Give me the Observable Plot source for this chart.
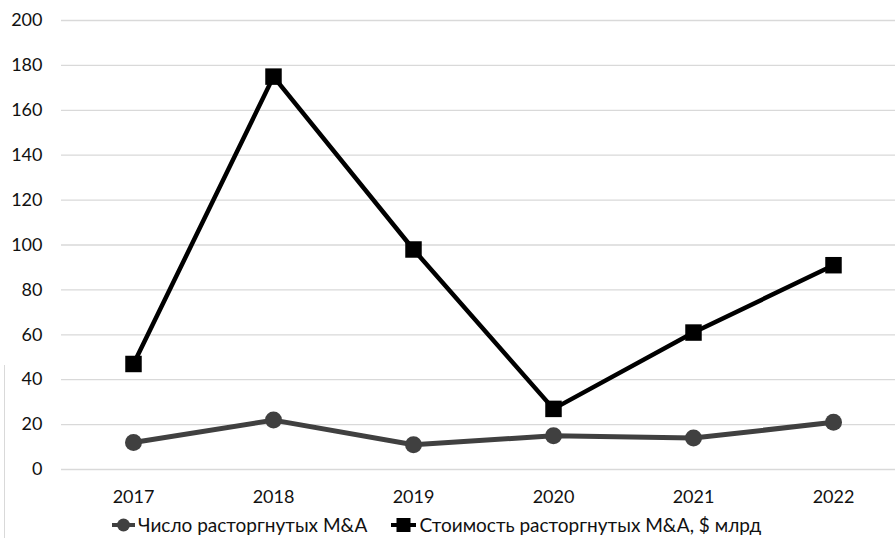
<!DOCTYPE html>
<html>
<head>
<meta charset="utf-8">
<script src="https://cdn.jsdelivr.net/npm/d3@7"></script>
<script src="https://cdn.jsdelivr.net/npm/@observablehq/plot@0.6"></script>
<style>
  body { margin: 0; background: #fff; font-family: Lato, "Open Sans", sans-serif; }
  #wrap { position: relative; width: 895px; height: 538px; overflow: hidden; }
  #edge { position: absolute; left: 4px; top: 365px; width: 0; height: 173px; border-left: 1px solid #d9d9d9; }
  #legend { position: absolute; left: 112px; top: 513px; display: flex; align-items: center; font-size: 19px; color: #111; white-space: nowrap; }
  #legend .item { display: flex; align-items: center; gap: 3px; }
  #legend .item + .item { margin-left: 24px; }
</style>
</head>
<body>
<div id="wrap">
  <div id="chart"></div>
  <div id="edge"></div>
  <div id="legend"></div>
</div>
<script>
const years = ["2017", "2018", "2019", "2020", "2021", "2022"];
const countDeals = [12, 22, 11, 15, 14, 21];
const valueDeals = [47, 175, 98, 27, 61, 91];
const yTicks = [0, 20, 40, 60, 80, 100, 120, 140, 160, 180, 200];
const seriesNames = ["Число расторгнутых M&A", "Стоимость расторгнутых M&A, $ млрд"];

const countData = years.map((y, i) => ({year: y, v: countDeals[i]}));
const valueData = years.map((y, i) => ({year: y, v: valueDeals[i]}));

const chart = Plot.plot({
  width: 895,
  height: 510,
  marginLeft: 61,
  marginRight: 0,
  marginTop: 20,
  marginBottom: 41,
  style: {fontFamily: "Lato, 'Open Sans', sans-serif", fontSize: "18px", color: "#111"},
  x: {type: "point", domain: years, range: [131.5, 834], padding: 0, label: null},
  y: {domain: [0, 200], label: null},
  marks: [
    Plot.ruleY(yTicks, {stroke: "#d9d9d9", strokeWidth: 1.3}),
    Plot.axisY({ticks: yTicks, tickSize: 0, tickPadding: 19, label: null, fontSize: 18}),
    Plot.axisX({tickSize: 0, tickPadding: 21, label: null, fontSize: 18}),
    Plot.line(countData, {x: "year", y: "v", stroke: "#404040", strokeWidth: 5}),
    Plot.dot(countData, {x: "year", y: "v", r: 8.5, fill: "#404040", stroke: "none"}),
    Plot.line(valueData, {x: "year", y: "v", stroke: "#000", strokeWidth: 4.5}),
    Plot.dot(valueData, {x: "year", y: "v", symbol: "square", r: 9.3, fill: "#000", stroke: "none"})
  ]
});
document.getElementById("chart").appendChild(chart);

const legend = document.getElementById("legend");
const sym = [
  '<svg width="23" height="16"><line x1="0" y1="8" x2="23" y2="8" stroke="#404040" stroke-width="4"/><circle cx="11.5" cy="8" r="6.5" fill="#404040"/></svg>',
  '<svg width="25" height="16"><line x1="0" y1="8" x2="25" y2="8" stroke="#000" stroke-width="4"/><rect x="5.5" y="1" width="14" height="14" fill="#000"/></svg>'
];
seriesNames.forEach((n, i) => {
  const d = document.createElement("div");
  d.className = "item";
  d.innerHTML = sym[i] + "<span>" + n + "</span>";
  legend.appendChild(d);
});
</script>
</body>
</html>
